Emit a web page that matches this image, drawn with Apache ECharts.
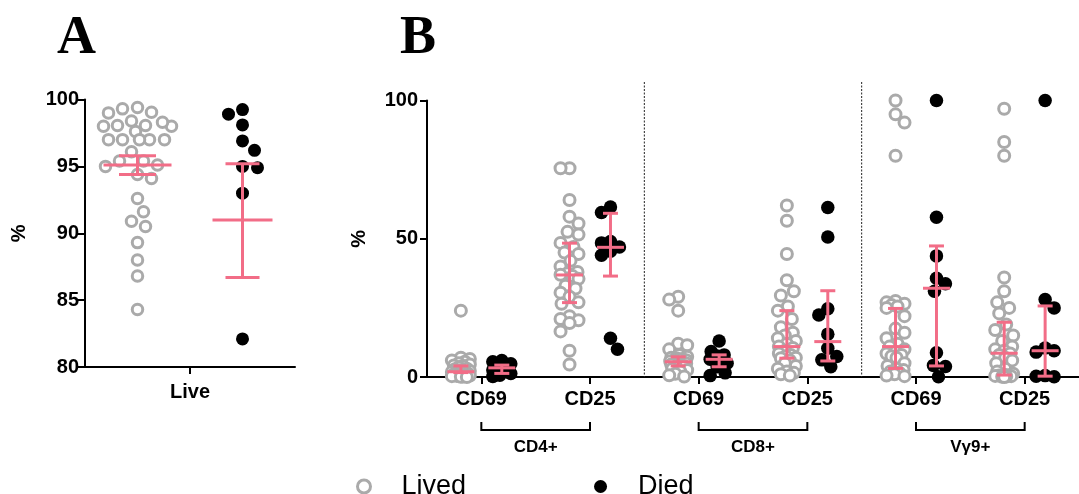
<!DOCTYPE html>
<html>
<head>
<meta charset="utf-8">
<script src="https://cdn.jsdelivr.net/npm/echarts@6/dist/echarts.min.js"></script>
<style>
  html, body { margin: 0; padding: 0; background: #fff; }
  #chart { width: 1079px; height: 494px; }
</style>
</head>
<body>
<div id="chart"></div>
<script>
// ---- Panel A: live cells (%) ----
const liveCategory = ['Live'];
const liveLived = [99.4, 99.0, 99.05, 99.3, 98.4, 98.0, 98.05, 97.6, 98.05, 98.0, 98.3,
  97.0, 97.0, 97.0, 96.1, 97.0, 97.0, 95.4, 95.0, 94.1, 94.4, 95.1, 95.4,
  92.6, 91.6, 90.9, 90.5, 89.3, 88.0, 86.8, 84.3];
const liveDied = [99.25, 98.9, 98.1, 96.9, 96.2, 94.9, 95.0, 93.0, 82.1];
// [centre, lower, upper]
const liveLivedBar = [95.1, 94.4, 95.8];
const liveDiedBar = [91.0, 86.7, 95.2];

// ---- Panel B: activation markers (%) ----
const markers = ['CD69', 'CD25', 'CD69', 'CD25', 'CD69', 'CD25'];
const populations = ['CD4+', 'CD8+', 'Vγ9+'];

const cd4Cd69Lived = [24, 7, 6.5, 6, 5.5, 5, 4.5, 4.2, 4, 3.5, 3, 2.8, 2.5, 2.2, 2, 1.9, 1.8, 1.6, 1.5, 1.3, 1.2, 1, 0.9, 0.8, 0.6, 0.5, 0.4, 0.3, 0.2, 0.1, 0];
const cd4Cd69Died = [6, 5.5, 4.8, 4.3, 3.3, 2.5, 1.3, 0.6, 0.2];
const cd4Cd25Lived = [75.5, 75.5, 64, 58, 55.5, 52.5, 51.5, 48.5, 47, 45, 44.5, 42, 40, 38, 37.5, 37, 36.5, 35.5, 33, 32, 30.5, 29, 27, 26.5, 22, 21, 20.5, 19.5, 16.5, 9.5, 4.5];
const cd4Cd25Died = [61.5, 59.5, 49, 48.5, 47, 45.5, 44, 14, 10];
const cd8Cd69Lived = [29, 28, 24, 12, 11.5, 10, 8, 7.3, 7, 6.8, 6.5, 6.3, 6.1, 5.9, 5.7, 5.5, 5.3, 5.1, 4.9, 4.7, 4.5, 4.3, 4.1, 4.0, 3.5, 3, 2.5, 2, 1.2, 0.6, 0.2];
const cd8Cd69Died = [13, 9.2, 8, 7.6, 6.4, 5, 3.7, 1.5, 0.5];
const cd8Cd25Lived = [62, 56.5, 44.5, 35, 31, 29.5, 25.5, 24, 21, 18, 16, 15, 14, 13, 12, 11, 10.5, 9.5, 8.5, 8, 7.5, 7, 6.8, 6, 5, 4, 3, 2, 1.5, 1, 0.5];
const cd8Cd25Died = [61.3, 50.6, 24.7, 22.4, 15.5, 10.4, 7.4, 6.2, 3.7];
const vg9Cd69Lived = [100, 95, 92, 80, 27.5, 27, 26.5, 26, 25.5, 25, 22, 17.5, 16, 14, 12, 11, 10, 9, 8.5, 8, 7.5, 7, 5, 4, 3, 2.5, 2, 1.5, 1, 0.5, 0.3];
const vg9Cd69Died = [100, 57.8, 43.8, 35.7, 33.7, 31, 8.8, 4.2, 3.8, 0.1];
const vg9Cd25Lived = [97, 85, 80, 36, 31, 27, 25, 23, 19, 17, 15, 13, 11, 10, 9.5, 8.5, 8, 7, 6, 5, 3, 2, 1.2, 0.8, 0.6, 0.5, 0.4, 0.3, 0.2, 0.1, 0];
const vg9Cd25Died = [100, 28, 25, 10.5, 9.5, 9, 0.5, 0.3, 0.1];

// median, lower quartile, upper quartile per column
const livedBars = [[1.9, 1.6, 4.0], [36.9, 26.9, 48.4], [5.5, 4.0, 7.3], [11.0, 6.8, 24.0], [11.0, 3.1, 24.8], [8.6, 0.7, 19.8]];
const diedBars = [[3.3, 1.3, 4.3], [46.9, 36.5, 59.2], [6.4, 3.7, 8.0], [12.8, 5.8, 31.2], [32.1, 4.0, 47.4], [9.5, 0.3, 25.7]];

const livedB = [cd4Cd69Lived, cd4Cd25Lived, cd8Cd69Lived, cd8Cd25Lived, vg9Cd69Lived, vg9Cd25Lived];
const diedB = [cd4Cd69Died, cd4Cd25Died, cd8Cd69Died, cd8Cd25Died, vg9Cd69Died, vg9Cd25Died];

// ---- layout & style ----
const FONT = "'Liberation Sans', Arial, sans-serif";
const SERIF = "'Liberation Serif', 'Times New Roman', serif";
const PINK = '#f26d87';
const GREY = '#aaaaaa';
const GA = { left: 85, top: 99.5, width: 210, height: 267.5 };
const GB = { left: 427, top: 100.5, width: 653, height: 276.5 };
const A_Y = [80, 100];
const B_Y = [0, 100];
const B_X = [0, markers.length];

// Beeswarm offsets (in pixels) so overlapping dots spread sideways around the column centre;
// candidate sides alternate from point to point to keep the swarm balanced
function swarm(values, pxPerY, diam, maxHalf) {
  const order = values.map((v, i) => i).sort((a, b) => values[b] - values[a]);
  const placed = [];
  const offs = new Array(values.length).fill(0);
  order.forEach((i, n) => {
    const y = values[i] * pxPerY;
    const first = n % 2 ? -1 : 1;
    let best = 0, bestScore = -Infinity;
    for (let k = 0; k <= 2 * maxHalf; k++) {
      const o = (k % 2 ? first : -first) * Math.ceil(k / 2);
      let minD = Infinity;
      for (const p of placed) minD = Math.min(minD, Math.hypot(p.x - o, p.y - y));
      if (minD >= diam) { best = o; break; }
      if (minD > bestScore + 0.5) { bestScore = minD; best = o; }
    }
    placed.push({ x: best, y });
    offs[i] = best;
  });
  return offs;
}

function swarmPoints(values, centre, pxPerX, pxPerY, diam, maxHalf) {
  const offs = swarm(values, pxPerY, diam, maxHalf);
  return values.map((v, i) => [centre + offs[i] / pxPerX, v]);
}

const aPxX = GA.width / 1, aPxY = GA.height / (A_Y[1] - A_Y[0]);
const bPxX = GB.width / (B_X[1] - B_X[0]), bPxY = GB.height / (B_Y[1] - B_Y[0]);
const SIDE = 20.5 / bPxX;

const aLivedPts = swarmPoints(liveLived, 0.25, aPxX, aPxY, 14.5, 34);
const aDiedPts = swarmPoints(liveDied, 0.75, aPxX, aPxY, 14.5, 34);

let bLivedPts = [], bDiedPts = [];
livedB.forEach((vals, c) => { bLivedPts = bLivedPts.concat(swarmPoints(vals, c + 0.5 - SIDE, bPxX, bPxY, 13, 9)); });
diedB.forEach((vals, c) => { bDiedPts = bDiedPts.concat(swarmPoints(vals, c + 0.5 + SIDE, bPxX, bPxY, 13, 9)); });

const aBars = [[0.25].concat(liveLivedBar), [0.75].concat(liveDiedBar)];
const bBars = [];
livedBars.forEach((b, c) => bBars.push([c + 0.5 - SIDE].concat(b)));
diedBars.forEach((b, c) => bBars.push([c + 0.5 + SIDE].concat(b)));

function errorBar(centreW, capW) {
  return function (params, api) {
    const x = api.value(0);
    const pc = api.coord([x, api.value(1)]);
    const pl = api.coord([x, api.value(2)]);
    const ph = api.coord([x, api.value(3)]);
    const style = { stroke: PINK, lineWidth: 3 };
    const h = (p, w) => ({ type: 'line', shape: { x1: p[0] - w / 2, y1: p[1], x2: p[0] + w / 2, y2: p[1] }, style });
    return {
      type: 'group',
      children: [
        { type: 'line', shape: { x1: pl[0], y1: pl[1], x2: ph[0], y2: ph[1] }, style },
        h(pl, capW), h(ph, capW), h(pc, centreW)
      ]
    };
  };
}

// population boundaries and bracket spans come from the marker layout
const boundaries = populations.slice(1).map((p, i) => [(i + 1) * 2]);
const brackets = populations.map((p, i) => [i * 2 + 0.5, i * 2 + 1.5, p]);

const axisLineStyle = { show: true, lineStyle: { color: '#000', width: 2 } };
const axisTickStyle = { show: true, length: 7, lineStyle: { color: '#000', width: 2 } };
const labelStyle = { color: '#000', fontFamily: FONT, fontWeight: 'bold', fontSize: 20 };

const chart = echarts.init(document.getElementById('chart'), null, { renderer: 'canvas' });
chart.setOption({
  animation: false,
  backgroundColor: '#fff',
  title: [
    { text: 'A', left: 52, top: 7, textStyle: { fontFamily: SERIF, fontWeight: 'bold', fontSize: 54, color: '#000' } },
    { text: 'B', left: 395, top: 7, textStyle: { fontFamily: SERIF, fontWeight: 'bold', fontSize: 54, color: '#000' } }
  ],
  legend: {
    data: [
      { name: 'Lived', itemStyle: { color: '#fff', borderColor: GREY, borderWidth: 3 } },
      { name: 'Died', itemStyle: { color: '#000' } }
    ],
    left: 351, top: 468,
    itemWidth: 13, itemHeight: 13, itemGap: 128,
    textStyle: { color: '#000', fontFamily: FONT, fontSize: 27, padding: [0, 0, 0, 26] }
  },
  grid: [
    Object.assign({}, GA),
    Object.assign({}, GB),
    { left: GB.left, width: GB.width, top: 82, height: GB.top + GB.height - 82 },
    { left: GB.left, width: GB.width, top: 422, height: 8 }
  ],
  xAxis: [
    { type: 'category', gridIndex: 0, data: liveCategory, axisLine: axisLineStyle,
      axisTick: Object.assign({ alignWithLabel: true }, axisTickStyle),
      axisLabel: Object.assign({ margin: 15 }, labelStyle) },
    { type: 'value', gridIndex: 0, min: 0, max: 1, show: false },
    { type: 'category', gridIndex: 1, data: markers, axisLine: axisLineStyle,
      axisTick: Object.assign({ alignWithLabel: true }, axisTickStyle),
      axisLabel: Object.assign({ margin: 12, interval: 0 }, labelStyle) },
    { type: 'value', gridIndex: 1, min: B_X[0], max: B_X[1], show: false },
    { type: 'value', gridIndex: 2, min: B_X[0], max: B_X[1], show: false },
    { type: 'value', gridIndex: 3, min: B_X[0], max: B_X[1], show: false }
  ],
  yAxis: [
    { type: 'value', gridIndex: 0, min: A_Y[0], max: A_Y[1], interval: 5,
      axisLine: axisLineStyle, axisTick: axisTickStyle, splitLine: { show: false },
      axisLabel: Object.assign({ margin: 6 }, labelStyle),
      name: '%', nameLocation: 'middle', nameGap: 56, nameRotate: 90,
      nameTextStyle: { color: '#000', fontFamily: FONT, fontWeight: 'bold', fontSize: 20 } },
    { type: 'value', gridIndex: 1, min: B_Y[0], max: B_Y[1], interval: 50,
      axisLine: axisLineStyle, axisTick: axisTickStyle, splitLine: { show: false },
      axisLabel: Object.assign({ margin: 9 }, labelStyle),
      name: '%', nameLocation: 'middle', nameGap: 58, nameRotate: 90,
      nameTextStyle: { color: '#000', fontFamily: FONT, fontWeight: 'bold', fontSize: 20 } },
    { type: 'value', gridIndex: 2, min: 0, max: 1, show: false },
    { type: 'value', gridIndex: 3, min: 0, max: 1, show: false }
  ],
  series: [
    { name: 'Lived', type: 'scatter', xAxisIndex: 1, yAxisIndex: 0, data: aLivedPts,
      symbol: 'circle', symbolSize: 10.5, clip: false,
      itemStyle: { color: '#fff', borderColor: GREY, borderWidth: 3, opacity: 1 } },
    { name: 'Died', type: 'scatter', xAxisIndex: 1, yAxisIndex: 0, data: aDiedPts,
      symbol: 'circle', symbolSize: 13, clip: false,
      itemStyle: { color: '#000', opacity: 1 } },
    { name: 'Lived', type: 'scatter', xAxisIndex: 3, yAxisIndex: 1, data: bLivedPts,
      symbol: 'circle', symbolSize: 11, clip: false,
      itemStyle: { color: '#fff', borderColor: GREY, borderWidth: 3, opacity: 1 } },
    { name: 'Died', type: 'scatter', xAxisIndex: 3, yAxisIndex: 1, data: bDiedPts,
      symbol: 'circle', symbolSize: 13.5, clip: false,
      itemStyle: { color: '#000', opacity: 1 } },
    { type: 'custom', xAxisIndex: 1, yAxisIndex: 0, data: [aBars[0]], z: 5, clip: false,
      renderItem: errorBar(68, 37), silent: true },
    { type: 'custom', xAxisIndex: 1, yAxisIndex: 0, data: [aBars[1]], z: 5, clip: false,
      renderItem: errorBar(60, 34), silent: true },
    { type: 'custom', xAxisIndex: 3, yAxisIndex: 1, data: bBars, z: 5, clip: false,
      renderItem: errorBar(27, 15), silent: true },
    { type: 'custom', xAxisIndex: 4, yAxisIndex: 2, data: boundaries, silent: true, clip: false,
      renderItem: function (params, api) {
        const top = api.coord([api.value(0), 1]);
        const bot = api.coord([api.value(0), 0]);
        return { type: 'line', shape: { x1: top[0], y1: top[1], x2: bot[0], y2: bot[1] },
          style: { stroke: '#222', lineWidth: 1, lineDash: [2, 1.5] } };
      } },
    { type: 'custom', xAxisIndex: 5, yAxisIndex: 3, data: brackets, silent: true, clip: false,
      encode: { x: [0, 1] },
      renderItem: function (params, api) {
        const a = api.coord([api.value(0), 1]);
        const b = api.coord([api.value(1), 0]);
        return { type: 'group', children: [
          { type: 'polyline', shape: { points: [[a[0], a[1]], [a[0], b[1]], [b[0], b[1]], [b[0], a[1]]] },
            style: { stroke: '#000', lineWidth: 2, fill: null } },
          { type: 'text', style: { text: brackets[params.dataIndex][2], x: (a[0] + b[0]) / 2, y: b[1] + 17,
            align: 'center', verticalAlign: 'middle', fill: '#000',
            font: 'bold 17px ' + FONT } }
        ] };
      } }
  ]
});
</script>
</body>
</html>
